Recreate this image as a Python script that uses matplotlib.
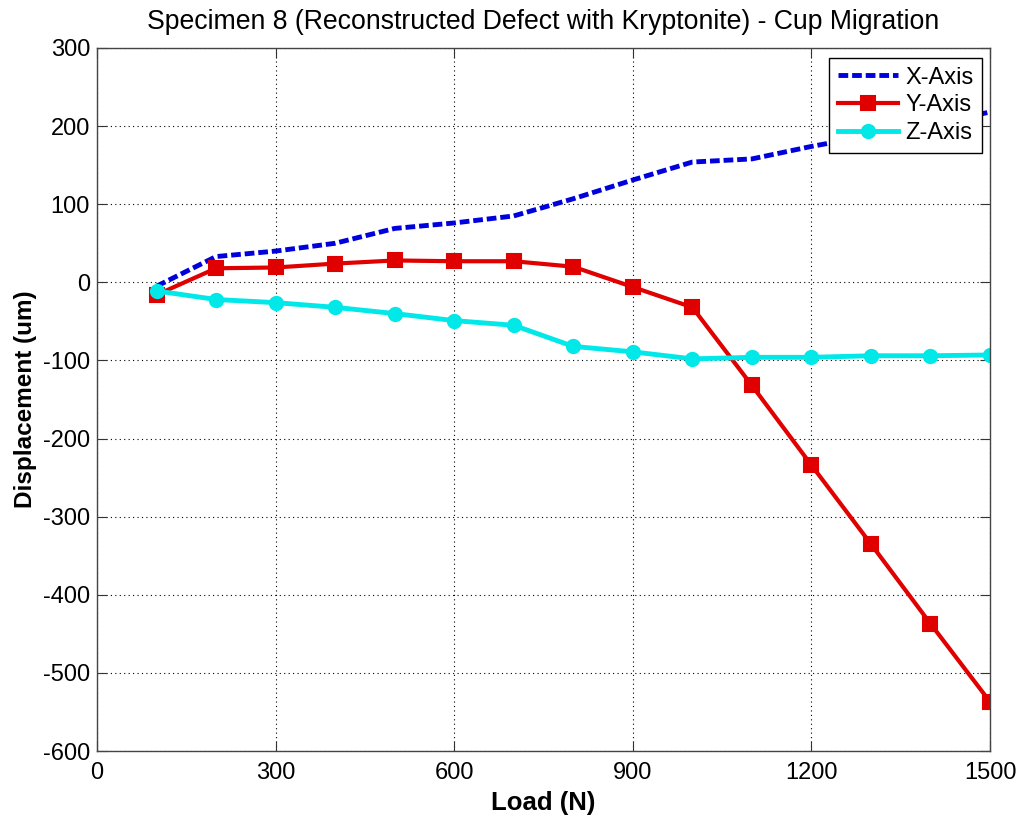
import matplotlib
matplotlib.use("Agg")
import matplotlib.pyplot as plt

plt.rcParams['font.family'] = ['Liberation Sans', 'DejaVu Sans']
plt.rcParams['axes.unicode_minus'] = False

load = [100, 200, 300, 400, 500, 600, 700, 800, 900, 1000, 1100, 1200, 1300, 1400, 1500]
x_axis = [-5, 33, 40, 50, 69, 76, 85, 107, 131, 154, 158, 174, 188, 202, 218]
y_axis = [-16, 18, 19, 24, 28, 27, 27, 20, -6, -32, -132, -234, -335, -437, -537]
z_axis = [-11, -22, -26, -32, -40, -49, -55, -82, -89, -98, -96, -96, -94, -94, -93]

xticks = [0, 300, 600, 900, 1200, 1500]
yticks = list(range(-600, 301, 100))

W, H = 1021, 819
fig = plt.figure(figsize=(W / 100, H / 100), dpi=100)
ax = fig.add_axes([97 / W, 1 - 751 / H, (990 - 97) / W, (751 - 48) / H])

ax.plot(load, x_axis, color='#0000dd', linestyle='--', linewidth=3.5, dashes=(2.0, 0.8), label='X-Axis')
ax.plot(load, y_axis, color='#e00000', linewidth=3.0, marker='s', markersize=10,
        markeredgewidth=1.5, label='Y-Axis')
ax.plot(load, z_axis, color='#00e8e8', linewidth=3.5, marker='o', markersize=9.5,
        markeredgewidth=1.5, label='Z-Axis')

ax.set_xlim(0, 1500)
ax.set_ylim(-600, 300)
ax.set_xticks(xticks)
ax.set_yticks(yticks)
ax.tick_params(direction='in', top=True, right=True, labelsize=17, length=7,
               color='#333333')
ax.tick_params(axis='y', pad=5)
ax.tick_params(axis='x', pad=8)
for s in ax.spines.values():
    s.set_color('#444444')
    s.set_linewidth(1.0)
ax.grid(True, linestyle=(0, (1, 3)), color='black', linewidth=0.8)

ax.set_title('Specimen 8 (Reconstructed Defect with Kryptonite) - Cup Migration',
             fontsize=19.2, pad=14)
ax.set_xlabel('Load (N)', fontsize=18.5, fontweight='bold', labelpad=5)
ax.set_ylabel('Displacement (um)', fontsize=17.5, fontweight='bold', labelpad=4)

leg = ax.legend(loc='upper right', bbox_to_anchor=(982 / W, 1 - 58 / H),
                bbox_transform=fig.transFigure, borderaxespad=0,
                fontsize=17, fancybox=False, edgecolor='black',
                framealpha=1, borderpad=0.36, handlelength=2.55, labelspacing=0.25,
                handletextpad=0.3)
leg.get_frame().set_linewidth(1.0)

fig.savefig('out.png', dpi=100)
